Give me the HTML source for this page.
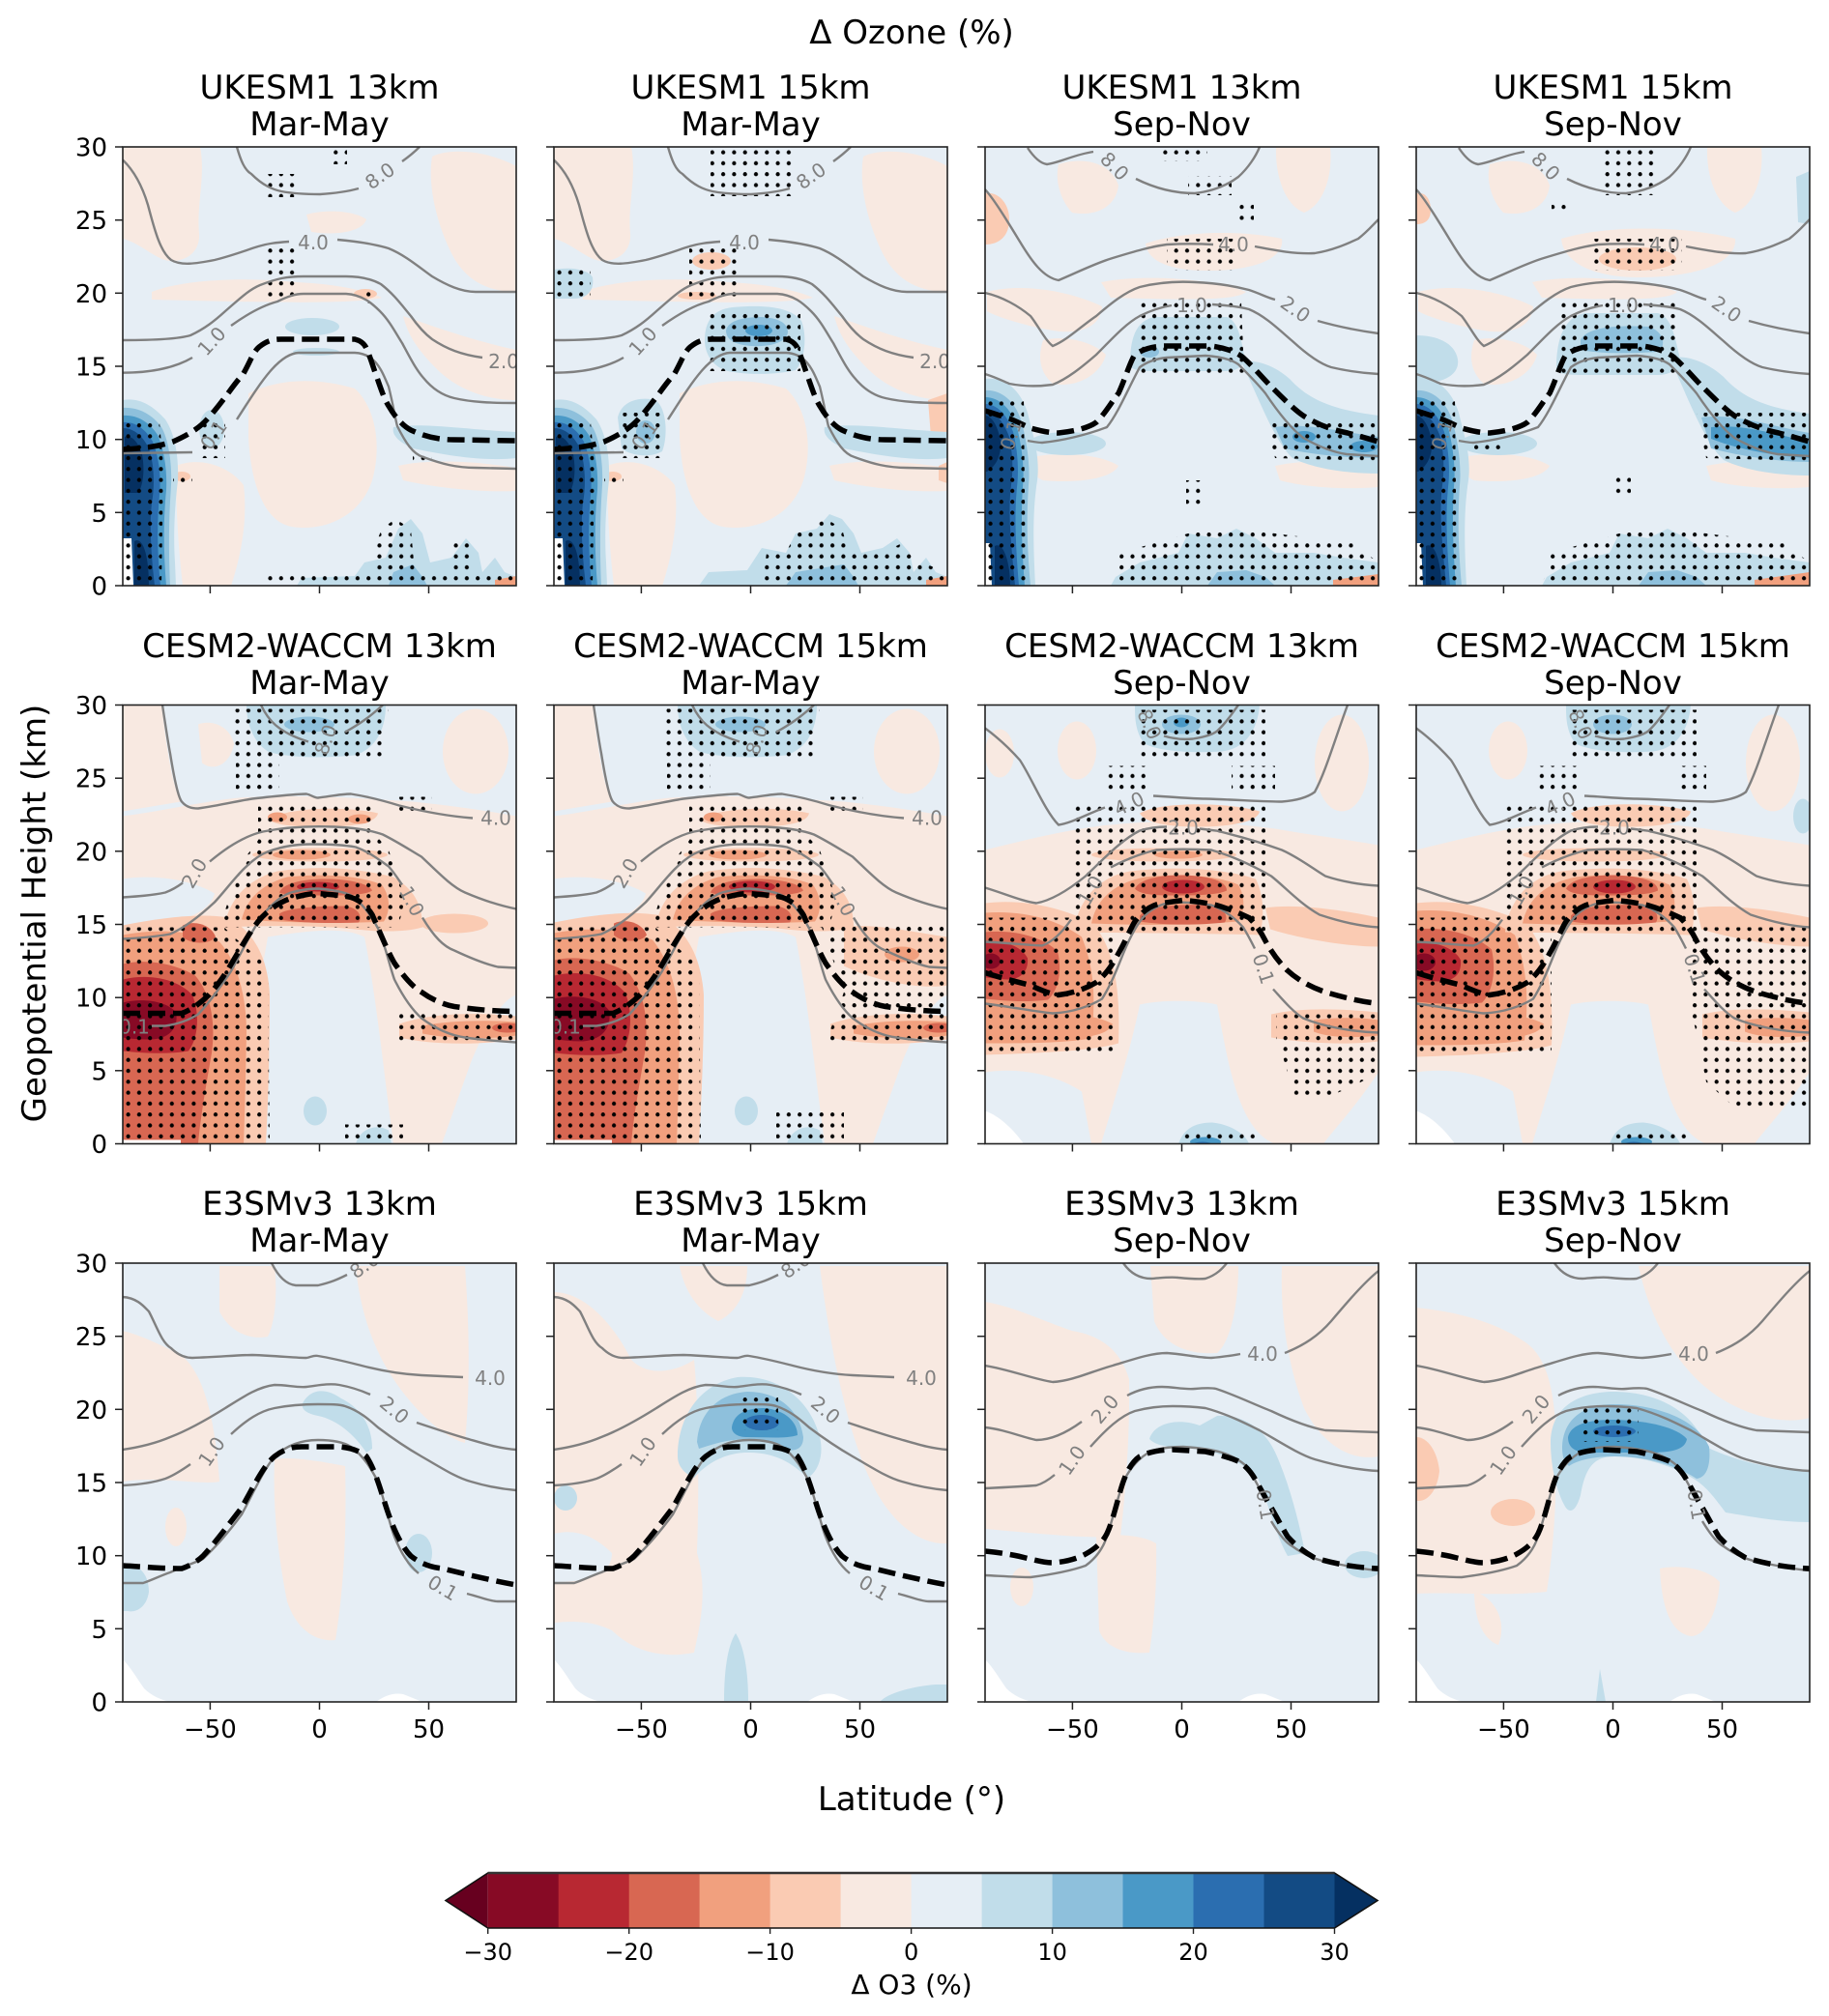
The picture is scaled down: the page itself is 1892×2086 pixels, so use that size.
<!DOCTYPE html>
<html><head><meta charset="utf-8"><style>
html,body{margin:0;padding:0;background:#fff}
svg{display:block}
text{font-family:"DejaVu Sans","Liberation Sans",sans-serif}
</style></head><body>
<svg width="1892" height="2086" viewBox="0 0 1892 2086" xmlns="http://www.w3.org/2000/svg">
<defs>
<pattern id="st" width="11.3" height="11.3" patternUnits="userSpaceOnUse"><circle cx="5.6" cy="5.6" r="2.1" fill="#000"/></pattern>
<clipPath id="cp"><rect x="0" y="0" width="407" height="454"/></clipPath>
<g id="tk">
<rect x="0" y="0" width="407" height="454" fill="none" stroke="#222" stroke-width="1.6"/>
<g stroke="#222" stroke-width="1.5">
<line x1="-8" x2="0" y1="454" y2="454"/><line x1="-8" x2="0" y1="378.3" y2="378.3"/><line x1="-8" x2="0" y1="302.7" y2="302.7"/><line x1="-8" x2="0" y1="227" y2="227"/><line x1="-8" x2="0" y1="151.3" y2="151.3"/><line x1="-8" x2="0" y1="75.7" y2="75.7"/><line x1="-8" x2="0" y1="0" y2="0"/>
<line x1="90.4" x2="90.4" y1="454" y2="462"/><line x1="203.5" x2="203.5" y1="454" y2="462"/><line x1="316.5" x2="316.5" y1="454" y2="462"/>
</g></g>

<g id="darkMAM">
<path fill="#c1ddea" d="M0,262 C15,259 30,266 44,282 C54,297 58,320 57,345 C54,370 52,400 54,430 L55,454 L0,454 Z"/>
<path fill="#8ec0dc" d="M0,270 C15,269 30,276 40,290 C48,304 51,330 50,350 C48,380 47,410 49,454 L0,454 Z"/>
<path fill="#4a99c7" d="M0,278 C14,277 27,284 36,298 C43,314 46,335 45,355 C42,385 42,420 45,454 L0,454 Z"/>
<path fill="#2b6eb0" d="M0,285 C12,284 23,291 31,305 C37,320 40,340 38,360 C35,390 36,425 39,454 L0,454 Z"/>
<path fill="#134b84" d="M0,291 C10,291 19,297 26,310 C32,324 33,345 31,362 C27,385 29,420 33,454 L0,454 Z"/>
<path fill="#053061" d="M2,300 C9,298 16,305 20,318 C23,335 21,350 16,358 L2,358 Z M12,408 C20,403 27,420 27,454 L12,454 Z"/>
<path fill="#fff" d="M0,405 L9,405 L11,454 L0,454 Z"/>
</g>
<g id="darkSON">
<path fill="#c1ddea" d="M0,240 C20,238 36,250 44,275 C50,300 57,320 54,345 C50,370 49,400 52,454 L0,454 Z"/>
<ellipse fill="#c1ddea" cx="85" cy="307" rx="40" ry="12"/>
<path fill="#8ec0dc" d="M0,252 C16,251 30,262 37,282 C43,303 47,330 45,350 C43,380 43,410 47,454 L0,454 Z"/>
<path fill="#4a99c7" d="M0,259 C14,259 27,270 33,290 C38,310 41,332 39,352 C37,382 38,415 41,454 L0,454 Z"/>
<path fill="#2b6eb0" d="M0,266 C12,266 23,277 29,295 C34,315 35,335 33,352 C30,382 32,418 35,454 L0,454 Z"/>
<path fill="#134b84" d="M0,273 C10,273 19,284 25,300 C29,320 29,335 27,350 C23,380 28,420 31,454 L0,454 Z"/>
<path fill="#053061" d="M0,278 C7,278 14,290 16,305 C17,318 12,330 2,336 L0,336 Z M10,413 C19,408 26,430 26,454 L10,454 Z"/>
<path fill="#fff" d="M0,410 L5,410 L7,454 L0,454 Z"/>
</g>

<g id="L1m" fill="none">
<g stroke="#808080" stroke-width="2.4">
<path d="M118,0 C122,14 126,24 133,28 C145,40 155,44 164,46 C180,49 195,49 204,49 C220,48 233,46 244,43"/>
<path d="M289,15 C296,10 302,5 307,0"/>
<path d="M0,13.5 C12,25 20,40 26,60 C32,82 38,108 50,117 C60,123 75,121 95,117 C115,112 130,106 140,103 C150,100 158,99 172,98"/>
<path d="M222,96 C245,98 262,101 275,105 C292,112 306,124 320,134 C335,143 350,150 365,150 L407,150"/>
<path d="M0,200 C40,200 60,198 70,195 C85,188 95,180 106,170 C120,158 130,148 142,143 C160,136 170,134 187,134 L231,134 C245,134 258,137 267,142 C280,152 288,163 298,175 C305,185 312,193 320,199 C335,209 350,215 372,218"/>
<path d="M0,233.7 C30,233.7 55,228 72,218"/>
<path d="M112,185 C130,172 145,164 160,160 C170,155 178,152 187,152 L231,152 C248,153 258,162 266,170 C276,180 282,192 289,203 C296,216 303,230 311,239 C320,250 330,257 343,260 C360,264 380,265 407,265"/>
<path d="M0,317 L72,316"/>
<path d="M118,282 C140,248 160,214 182,213 L240,213 C262,214 268,232 275,248 C280,268 282,282 284,289 C292,305 300,318 311,321 C330,328 345,332 365,332 L407,333"/>
</g>
<path stroke="#000" stroke-width="5.5" stroke-dasharray="18 8" d="M0,313 C25,312 40,309 52,305 C70,297 80,290 88,281 C105,262 115,245 124,236 C132,222 135,212 141,207 C150,200 156,199 164,199 L240,199 C248,201 251,205 253,211 C257,220 259,228 262,236 C267,250 270,260 275,268 C282,280 290,289 298,293 C315,301 330,303 342,303 L407,304"/>
</g>

<g id="L1s" fill="none">
<g stroke="#808080" stroke-width="2.4">
<path d="M44,1 C50,10 57,17 64,18 C78,16 92,8 112,5"/>
<path d="M156,33 C180,45 200,48 217,48 C235,46 250,40 262,31 C272,22 280,10 284,0"/>
<path d="M0,44 C10,55 25,80 36,98 C48,118 60,135 76,138 C95,130 115,120 132,115 C155,108 172,103 188,101 C205,100 220,100 236,101"/>
<path d="M279,103 C300,107 320,111 341,110 C360,107 375,100 386,95 C395,88 400,82 407,75"/>
<path d="M0,151 C18,155 35,165 47,175 C55,185 62,200 70,206 C85,200 100,185 115,175 C130,162 145,150 160,145 C180,140 200,139 217,140 C240,141 258,144 273,148 C285,152 292,156 300,158"/>
<path d="M344,180 C365,186 385,190 407,193"/>
<path d="M0,235 C10,238 18,242 25,245 C40,248 55,248 70,246 C85,240 100,228 115,215 C130,200 145,183 160,175 C170,170 180,166 193,164"/>
<path d="M235,163 C250,164 262,165 273,168 C290,175 305,190 318,201 C330,212 345,224 358,228 C375,232 390,234 407,235"/>
<path d="M44,304 C55,306 58,306 59,306 C80,304 105,298 126,290 C138,275 148,250 160,228 C168,222 178,219 188,218 L228,216 C242,217 255,220 262,225 C272,235 282,245 290,255 C300,270 315,290 329,301 C345,310 360,316 374,318 L407,320"/>
</g>
<path stroke="#000" stroke-width="5.5" stroke-dasharray="18 8" d="M0,273 C10,276 18,279 25,281 C35,285 42,289 47,291 C58,294 67,296 76,296 C95,294 108,290 115,285 C125,275 132,262 138,255 C145,240 150,222 155,215 C165,208 176,206 188,206 L234,206 C248,208 260,212 267,218 C278,228 288,240 296,248 C308,260 320,272 329,278 C345,288 360,293 375,296 C390,300 400,303 407,305"/>
</g>

<g id="L2m" fill="none">
<g stroke="#808080" stroke-width="2.4">
<path d="M143,0 C150,15 160,28 192,38"/>
<path d="M230,28 C248,18 258,10 269,0"/>
<path d="M41,0 C44,20 47,40 49,50 C53,75 57,95 61,100 C66,106 72,107 78,107 C100,104 120,99 134,97 C160,94 180,92 190,92 C195,93 198,96 202,96 C212,95 225,92 236,92 C255,95 270,99 286,104 C310,110 335,115 362,117"/>
<path d="M0,199 C15,198 30,197 44,194 C52,191 58,187 62,184"/>
<path d="M90,162 C110,145 128,135 145,131 C170,126 195,125 219,126 C240,127 258,130 269,134 C285,142 297,150 309,157 C325,172 340,188 354,194 C375,203 392,208 407,211"/>
<path d="M0,242 C20,241 38,239 49,237 C65,230 80,218 95,204 C110,188 125,165 145,154 C160,147 178,144 196,144 C215,144 230,145 241,147 C255,152 265,160 275,167 C282,175 286,182 289,186"/>
<path d="M310,220 C322,240 332,250 343,254 C360,262 375,268 388,271 L407,272"/>
<path d="M30,332 L44,332 C58,330 70,325 78,320 C92,305 102,290 111,277 C122,258 134,232 145,217 C155,205 165,197 174,194 C185,191 193,190 202,190 C215,191 228,193 236,197 C248,205 257,218 264,231 C272,250 276,270 281,284 C290,302 300,316 309,324 C325,336 340,342 354,344 C375,347 392,348 407,349"/>
</g>
<path stroke="#000" stroke-width="5.5" stroke-dasharray="18 8" d="M0,319 L61,319 C72,315 82,307 89,300 C98,290 105,280 111,270 C120,255 130,237 140,224 C150,212 162,204 174,200 C185,197 193,195 202,195 C215,196 228,197 236,199 C246,202 254,210 258,217 C266,235 274,255 281,267 C290,280 300,292 309,297 C320,305 332,310 343,312 C365,315 385,317 407,317"/>
</g>

<g id="L2s" fill="none">
<g stroke="#808080" stroke-width="2.4">
<path d="M185,32 C195,35 205,36 215,35 C228,33 236,30 240,27 C250,18 256,8 262,0"/>
<path d="M0,24 C15,35 28,48 36,57 C48,75 62,110 76,124 C90,122 105,113 124,106"/>
<path d="M174,94 C195,95 212,97 228,97 C260,98 290,100 307,100 C320,99 333,96 341,90 C352,70 362,35 375,0"/>
<path d="M0,189 C20,195 38,203 53,205 C70,202 88,190 104,177 C120,162 140,140 160,130 C170,127 180,126 188,126"/>
<path d="M222,128 L239,130 C260,135 285,142 307,150 C325,158 340,170 352,177 C370,183 390,186 407,187"/>
<path d="M0,245 C20,246 40,248 59,249 C70,245 80,235 89,222"/>
<path d="M130,168 C145,160 160,154 177,150 C195,149 215,149 234,150 C255,156 275,165 296,177 C310,188 325,205 346,217 C370,225 390,229 407,230"/>
<path d="M0,309 C25,312 50,317 70,319 C90,318 108,312 121,304 C130,290 137,272 143,257 C150,240 158,225 166,217 C175,209 185,205 194,204 C210,204 222,205 234,207 C248,212 258,220 267,230 C272,238 276,246 279,252"/>
<path d="M298,294 C308,305 318,317 329,324 C350,333 380,338 407,339"/>
</g>
<path stroke="#000" stroke-width="5.5" stroke-dasharray="18 8" d="M0,277 C15,282 35,287 47,290 C60,296 68,299 76,300 C92,298 105,293 115,287 C126,278 132,268 138,257 C145,245 150,232 155,224 C163,213 172,207 183,205 L205,202 C218,203 230,205 239,207 C253,211 264,216 273,220 C281,228 286,236 290,244 C297,257 305,267 312,274 C325,286 340,293 352,297 C372,303 390,307 407,309"/>
</g>

<g id="L3m" fill="none">
<g stroke="#808080" stroke-width="2.4">
<path d="M154,0 C160,12 168,22 179,23 L202,23 C215,20 222,17 232,12"/>
<path d="M0,35 C15,36 22,45 27,50 C35,65 40,82 50,88 C58,96 65,98 72,98 C100,97 120,95 134,95 C160,96 180,98 190,98 C195,97 198,95 202,96 C220,99 235,103 247,106 C270,112 290,115 309,116 L352,118"/>
<path d="M0,193 C20,190 35,186 49,180 C70,172 90,160 106,150 C125,138 140,128 157,126 C170,126 180,129 190,128 C200,127 212,124 224,126 C235,128 245,131 256,136"/>
<path d="M304,165 C325,172 340,177 354,181 C375,187 390,192 407,193"/>
<path d="M0,230 C20,229 35,226 44,223 C52,220 60,215 70,208"/>
<path d="M112,177 C128,162 142,153 157,150 C172,147 188,146 202,146 C215,146 224,146 230,148 C245,153 255,162 264,170 C280,182 295,192 309,200 C330,212 345,222 360,226 C380,232 395,234 407,235"/>
<path d="M0,331 L21,331 C30,328 40,323 49,320 C60,315 72,311 83,306 C100,290 112,275 123,260 C135,238 145,215 157,200 C170,188 185,183 202,183 C215,183 228,185 236,190 C250,200 258,215 264,226 C272,250 276,270 281,283 C288,300 295,312 306,321"/>
<path d="M356,342 C372,346 380,350 388,350 L407,350"/>
</g>
<path stroke="#000" stroke-width="5.5" stroke-dasharray="18 8" d="M0,313 C20,314 40,316 61,316 C70,313 78,308 83,303 C95,290 110,270 123,253 C135,232 145,210 157,200 C167,192 176,190 185,190 L224,190 C235,191 245,194 252,200 C262,215 268,240 275,260 C282,280 290,295 298,303 C308,311 320,315 331,316 C355,322 380,328 407,333"/>
</g>

<g id="L3s" fill="none">
<g stroke="#808080" stroke-width="2.4">
<path d="M143,0 C150,10 160,16 172,16 C185,15 192,14 200,15 C210,16 220,17 228,16 C240,12 246,5 250,0"/>
<path d="M0,106 C25,110 50,120 70,123 C90,122 110,112 132,106 C155,99 172,93 188,93 C205,94 220,98 234,98 C248,97 258,95 264,94"/>
<path d="M310,93 C330,85 345,75 358,60 C375,40 392,20 407,8"/>
<path d="M0,170 C20,172 38,180 53,183 C68,183 85,175 100,164"/>
<path d="M147,137 C160,130 172,128 183,128 C195,128 205,131 217,130 C228,129 235,129 239,130 C260,137 278,146 296,153 C315,162 335,170 352,173 L407,175"/>
<path d="M0,233 C20,232 40,231 53,230 C60,228 66,224 72,219"/>
<path d="M109,190 C125,172 140,158 155,153 C170,149 182,148 194,148 C210,148 220,149 228,150 C250,156 268,165 284,173 C305,185 325,198 341,203 C365,210 385,214 407,215"/>
<path d="M0,323 C20,324 35,325 47,325 C70,322 90,318 104,313 C115,305 122,295 126,283 C132,265 138,240 143,226 C152,208 165,196 177,193 C188,190 198,190 205,190 C220,191 235,193 245,196 C258,200 268,207 273,213 C278,222 282,230 284,233"/>
<path d="M296,267 C305,282 312,290 318,293 C330,302 345,308 358,310 C378,314 393,317 407,318"/>
</g>
<path stroke="#000" stroke-width="5.5" stroke-dasharray="18 8" d="M0,298 C20,300 35,303 42,305 C55,308 62,310 70,310 C85,309 97,305 104,301 C115,295 122,288 126,280 C133,265 138,240 143,226 C148,212 154,204 160,200 C170,195 183,193 194,193 L228,195 C242,198 255,202 262,205 C270,210 275,216 279,223 C286,235 291,245 296,253 C303,265 308,275 313,283 C322,293 332,300 341,305 C365,312 385,315 407,316"/>
</g>
</defs>

<rect width="1892" height="2086" fill="#fff"/>

<!-- Titles -->
<text x="943" y="45" font-size="34" text-anchor="middle">Δ Ozone (%)</text>
<g font-size="34" text-anchor="middle">
<text x="330.5" y="102">UKESM1 13km</text><text x="330.5" y="140">Mar-May</text>
<text x="776.5" y="102">UKESM1 15km</text><text x="776.5" y="140">Mar-May</text>
<text x="1222.5" y="102">UKESM1 13km</text><text x="1222.5" y="140">Sep-Nov</text>
<text x="1668.5" y="102">UKESM1 15km</text><text x="1668.5" y="140">Sep-Nov</text>
<text x="330.5" y="680">CESM2-WACCM 13km</text><text x="330.5" y="718">Mar-May</text>
<text x="776.5" y="680">CESM2-WACCM 15km</text><text x="776.5" y="718">Mar-May</text>
<text x="1222.5" y="680">CESM2-WACCM 13km</text><text x="1222.5" y="718">Sep-Nov</text>
<text x="1668.5" y="680">CESM2-WACCM 15km</text><text x="1668.5" y="718">Sep-Nov</text>
<text x="330.5" y="1257">E3SMv3 13km</text><text x="330.5" y="1295">Mar-May</text>
<text x="776.5" y="1257">E3SMv3 15km</text><text x="776.5" y="1295">Mar-May</text>
<text x="1222.5" y="1257">E3SMv3 13km</text><text x="1222.5" y="1295">Sep-Nov</text>
<text x="1668.5" y="1257">E3SMv3 15km</text><text x="1668.5" y="1295">Sep-Nov</text>
</g>

<!-- ============ ROW 1 ============ -->
<!-- R1C1 -->
<g transform="translate(127,152)">
<g clip-path="url(#cp)">
<rect width="407" height="454" fill="#e6eef5"/>
<g fill="#f8e9e1">
<path d="M0,0 L80,0 C86,30 76,60 79,90 C80,105 70,118 50,118 C35,118 20,100 0,95Z"/>
<path d="M30,150 C60,138 120,134 180,140 C220,142 250,148 268,156 C240,163 150,161 30,158Z"/>
<path d="M320,10 C340,0 380,5 407,20 L407,150 C380,150 355,140 340,110 C325,80 315,40 320,10Z"/>
<path d="M290,175 C320,185 360,200 407,210 L407,262 C375,262 345,250 325,230 C305,210 295,195 290,175Z"/>
<path d="M130,255 C160,240 200,238 240,250 C262,270 268,310 258,345 C245,385 205,398 175,393 C145,388 132,345 130,300Z"/>
<path d="M55,330 C80,320 110,330 125,350 C130,390 120,430 112,454 L62,454 C58,420 55,380 55,330Z"/>
<path d="M285,330 C320,322 370,326 407,332 L407,356 C370,358 320,352 290,345Z"/>
<path d="M190,70 C210,64 240,66 252,75 C248,88 220,92 195,88Z"/>
</g>
<ellipse fill="#facbb3" cx="251" cy="152" rx="12" ry="5"/>
<ellipse fill="#facbb3" cx="61" cy="341" rx="9" ry="5"/>
<ellipse fill="#c1ddea" cx="92" cy="292" rx="13" ry="20"/>
<ellipse fill="#c1ddea" cx="196" cy="186" rx="28" ry="9"/>
<ellipse fill="#c1ddea" cx="200" cy="212" rx="24" ry="4"/>
<path fill="#c1ddea" d="M280,290 C310,285 350,292 407,295 L407,322 C370,326 330,318 300,312 C285,305 278,298 280,290Z"/>
<path fill="#c1ddea" d="M180,454 L185,446 L240,444 L250,430 L272,425 L285,395 L298,385 L310,400 L318,430 L340,425 L355,405 L368,420 L372,440 L385,425 L395,440 L407,445 L407,454Z"/>
<path fill="#8ec0dc" d="M275,454 L280,440 L300,432 L310,445 L315,454Z"/>
<path fill="#f1a07e" d="M385,448 L407,444 L407,454 L385,454Z"/>
<use href="#darkMAM"/>
<path fill="url(#st)" d="M0,285 L38,285 L42,330 L40,454 L0,454Z M80,282 L106,282 L106,322 L80,322Z M255,454 L258,420 L268,395 L282,385 L298,395 L302,440 L300,454Z M340,454 L342,410 L360,410 L366,454Z M150,454 L150,444 L407,444 L407,454Z M148,28 L178,28 L178,52 L148,52Z M215,0 L232,0 L232,18 L215,18Z M150,105 L178,105 L178,160 L150,160Z M246,148 L262,148 L262,162 L246,162Z M300,318 L320,318 L320,330 L300,330Z M52,337 L72,337 L72,347 L52,347Z"/>
<use href="#L1m"/>
<g font-size="20" fill="#808080" text-anchor="middle">
<text x="266" y="37" transform="rotate(-35 266 30)">8.0</text>
<text x="197" y="106">4.0</text>
<text x="394" y="229">2.0</text>
<text x="92" y="208" transform="rotate(-48 92 201)">1.0</text>
<text x="94" y="305" transform="rotate(-55 94 298)">0.1</text>
</g>
</g>
<use href="#tk"/>
</g>

<!-- R1C2 -->
<g transform="translate(573,152)">
<g clip-path="url(#cp)">
<rect width="407" height="454" fill="#e6eef5"/>
<g fill="#f8e9e1">
<path d="M0,0 L80,0 C86,30 76,60 79,90 C80,105 70,118 50,118 C35,118 20,100 0,95Z"/>
<path d="M30,150 C60,138 120,134 180,140 C220,142 250,148 268,156 C240,163 150,161 30,158Z"/>
<path d="M320,10 C340,0 380,5 407,20 L407,150 C380,150 355,140 340,110 C325,80 315,40 320,10Z"/>
<path d="M290,175 C320,185 360,200 407,210 L407,262 C375,262 345,250 325,230 C305,210 295,195 290,175Z"/>
<path d="M130,255 C160,240 200,238 240,250 C262,270 268,310 258,345 C245,385 205,398 175,393 C145,388 132,345 130,300Z"/>
<path d="M55,330 C80,320 110,330 125,350 C130,390 120,430 112,454 L62,454 C58,420 55,380 55,330Z"/>
<path d="M285,330 C320,322 370,326 407,332 L407,356 C370,358 320,352 290,345Z"/>
</g>
<ellipse fill="#facbb3" cx="163" cy="118" rx="20" ry="9"/>
<ellipse fill="#facbb3" cx="148" cy="154" rx="20" ry="4"/>
<path fill="#facbb3" d="M387,262 L407,255 L407,305 L390,300Z M398,330 L407,326 L407,348 L398,345Z"/>
<ellipse fill="#facbb3" cx="61" cy="341" rx="9" ry="5"/>
<path fill="#c1ddea" d="M0,127 C15,124 35,126 40,135 C42,148 35,157 20,157 L0,157Z"/>
<path fill="#c1ddea" d="M66,280 C70,262 90,258 105,262 C117,270 118,300 112,315 C100,322 80,320 70,312Z"/>
<ellipse fill="#8ec0dc" cx="95" cy="295" rx="10" ry="12"/>
<path fill="#c1ddea" d="M156,200 C156,180 165,168 185,166 C215,163 245,165 256,180 C262,195 260,220 250,231 C230,236 200,236 180,232 C165,228 156,215 156,200Z"/>
<path fill="#8ec0dc" d="M178,190 C180,180 195,176 215,176 C232,177 242,182 242,192 C240,202 225,207 205,206 C188,205 178,200 178,190Z"/>
<ellipse fill="#4a99c7" cx="212" cy="190" rx="14" ry="6"/>
<path fill="#c1ddea" d="M280,290 C310,285 350,292 407,295 L407,322 C370,326 330,318 300,312 C285,305 278,298 280,290Z"/>
<path fill="#c1ddea" d="M150,454 L160,440 L200,438 L215,415 L240,420 L250,400 L272,395 L285,380 L298,385 L310,400 L318,420 L340,415 L355,405 L368,420 L372,440 L385,425 L395,440 L407,445 L407,454Z"/>
<path fill="#8ec0dc" d="M240,454 L250,440 L275,436 L300,432 L310,445 L315,454Z"/>
<path fill="#f1a07e" d="M385,448 L407,444 L407,454 L385,454Z"/>
<use href="#darkMAM"/>
<path fill="url(#st)" d="M0,285 L38,285 L42,330 L40,454 L0,454Z M66,275 L115,275 L115,322 L66,322Z M160,168 L255,168 L255,232 L160,232Z M0,127 L38,127 L38,156 L0,156Z M162,0 L246,0 L246,51 L162,51Z M140,105 L190,105 L190,160 L140,160Z M215,454 L220,420 L240,420 L250,400 L282,385 L298,395 L305,420 L340,420 L360,410 L380,430 L407,440 L407,454Z M52,337 L72,337 L72,347 L52,347Z"/>
<use href="#L1m"/>
<g font-size="20" fill="#808080" text-anchor="middle">
<text x="266" y="37" transform="rotate(-35 266 30)">8.0</text>
<text x="197" y="106">4.0</text>
<text x="394" y="229">2.0</text>
<text x="92" y="208" transform="rotate(-48 92 201)">1.0</text>
<text x="94" y="305" transform="rotate(-55 94 298)">0.1</text>
</g>
</g>
<use href="#tk"/>
</g>

<!-- R1C3 -->
<g transform="translate(1019,152)">
<g clip-path="url(#cp)">
<rect width="407" height="454" fill="#e6eef5"/>
<g fill="#f8e9e1">
<path d="M76,18 C100,10 130,15 138,40 C135,65 110,72 90,68 C78,55 72,35 76,18Z"/>
<path d="M166,100 C200,88 260,85 307,95 C310,115 280,128 230,128 C190,128 168,118 166,100Z"/>
<path d="M301,0 L357,0 C360,30 350,60 330,68 C310,60 300,30 301,0Z"/>
<path d="M2,150 C40,140 90,150 121,165 C120,185 100,195 70,190 C40,185 10,175 2,170Z"/>
<path d="M47,321 C80,315 120,318 138,330 C130,345 90,348 60,345 C48,340 45,330 47,321Z"/>
<path d="M300,330 C340,322 380,325 407,330 L407,352 C370,355 330,352 305,345Z"/>
<path d="M120,140 C160,132 230,135 270,150 C260,160 200,158 130,156Z"/>
<path d="M60,200 C80,195 110,200 125,215 C120,235 95,250 70,245 C55,232 55,215 60,200Z"/>
</g>
<path fill="#facbb3" d="M0,48 C15,46 25,60 25,75 C25,92 15,101 0,101Z"/>
<path fill="#c1ddea" d="M150,225 C150,200 155,180 175,176 L250,176 C262,180 265,200 268,215 C270,225 262,232 250,232 L170,232 C158,232 150,230 150,225Z"/>
<ellipse fill="#8ec0dc" cx="170" cy="212" rx="10" ry="6"/>
<path fill="#c1ddea" d="M265,222 C280,220 298,225 315,240 C335,262 360,272 407,278 L407,338 C375,338 340,333 318,322 C300,305 285,265 265,222Z"/>
<path fill="#8ec0dc" d="M300,290 C330,285 370,295 407,300 L407,322 C375,322 335,318 310,312Z"/>
<ellipse fill="#4a99c7" cx="330" cy="300" rx="12" ry="6"/>
<ellipse fill="#4a99c7" cx="392" cy="310" rx="14" ry="6"/>
<path fill="#c1ddea" d="M130,454 L135,445 L160,430 L200,420 L210,400 L240,405 L260,395 L280,405 L300,420 L340,420 L370,425 L407,430 L407,448 L380,448 L360,454Z"/>
<path fill="#8ec0dc" d="M230,454 L240,440 L270,438 L290,445 L300,454Z"/>
<path fill="#f1a07e" d="M360,448 L407,442 L407,454 L360,454Z"/>
<use href="#darkSON"/>
<path fill="url(#st)" d="M0,258 L40,258 L42,454 L0,454Z M210,30 L255,30 L255,50 L210,50Z M184,2 L230,2 L230,15 L184,15Z M260,55 L278,55 L278,80 L260,80Z M188,95 L262,95 L262,128 L188,128Z M155,160 L265,160 L268,235 L155,235Z M290,285 L407,285 L407,325 L300,322Z M132,454 L140,420 L210,400 L260,395 L300,400 L380,410 L407,430 L407,454Z M208,345 L225,345 L225,372 L208,372Z"/>
<use href="#L1s"/>
<g font-size="20" fill="#808080" text-anchor="middle">
<text x="134" y="27" transform="rotate(45 134 20)">8.0</text>
<text x="257" y="108">4.0</text>
<text x="321" y="175" transform="rotate(35 321 168)">2.0</text>
<text x="214" y="171">1.0</text>
<text x="27" y="305" transform="rotate(-72 27 298)">0.1</text>
</g>
</g>
<use href="#tk"/>
</g>

<!-- R1C4 -->
<g transform="translate(1465,152)">
<g clip-path="url(#cp)">
<rect width="407" height="454" fill="#e6eef5"/>
<g fill="#f8e9e1">
<path d="M76,18 C100,10 130,15 138,40 C135,65 110,72 90,68 C78,55 72,35 76,18Z"/>
<path d="M150,95 C200,80 280,82 330,95 C332,120 290,135 230,135 C180,135 152,118 150,95Z"/>
<path d="M301,0 L357,0 C360,30 350,60 330,68 C310,60 300,30 301,0Z"/>
<path d="M2,150 C40,140 90,150 121,165 C120,185 100,195 70,190 C40,185 10,175 2,170Z"/>
<path d="M47,321 C80,315 120,318 138,330 C130,345 90,348 60,345 C48,340 45,330 47,321Z"/>
<path d="M300,330 C340,322 380,325 407,330 L407,352 C370,355 330,352 305,345Z"/>
<path d="M120,140 C160,132 230,135 270,150 C260,160 200,158 130,156Z"/>
<path d="M60,200 C80,195 110,200 125,215 C120,235 95,250 70,245 C55,232 55,215 60,200Z"/>
</g>
<ellipse fill="#facbb3" cx="229" cy="116" rx="40" ry="12"/>
<path fill="#facbb3" d="M0,48 C10,46 15,55 15,65 C15,75 10,80 0,80Z"/>
<path fill="#c1ddea" d="M393,31 L407,25 L407,80 L395,78Z"/>
<path fill="#c1ddea" d="M0,195 C20,195 40,202 43,220 C45,235 30,245 0,245Z"/>
<path fill="#c1ddea" d="M145,230 C145,200 152,176 175,172 L250,172 C265,176 268,200 272,215 C274,228 265,236 250,236 L170,236 C155,236 145,234 145,230Z"/>
<path fill="#8ec0dc" d="M170,200 C175,188 200,184 240,186 C255,190 260,205 250,212 C220,214 190,214 170,210Z"/>
<path fill="#c1ddea" d="M262,218 C280,215 300,222 318,238 C338,260 362,270 407,276 L407,340 C375,340 340,335 318,324 C298,305 282,262 262,218Z"/>
<path fill="#8ec0dc" d="M295,280 C330,275 370,290 407,296 L407,326 C375,326 335,320 305,312Z"/>
<path fill="#4a99c7" d="M305,290 C340,286 380,300 407,305 L407,322 C370,320 330,312 305,302Z"/>
<path fill="#c1ddea" d="M130,454 L135,445 L160,430 L200,420 L210,400 L240,405 L260,395 L280,405 L300,420 L340,420 L370,425 L407,430 L407,448 L380,448 L360,454Z"/>
<path fill="#8ec0dc" d="M230,454 L240,440 L270,438 L290,445 L300,454Z"/>
<path fill="#f1a07e" d="M350,448 L407,440 L407,454 L350,454Z"/>
<use href="#darkSON"/>
<path fill="url(#st)" d="M0,258 L40,258 L42,454 L0,454Z M190,0 L250,0 L250,50 L190,50Z M140,55 L160,55 L160,70 L140,70Z M182,95 L275,95 L275,128 L182,128Z M150,160 L270,160 L272,238 L150,238Z M290,275 L407,275 L407,325 L300,322Z M130,454 L140,420 L210,400 L260,395 L300,400 L380,410 L407,430 L407,454Z M205,340 L222,340 L222,365 L205,365Z M60,305 L90,305 L90,318 L60,318Z"/>
<use href="#L1s"/>
<g font-size="20" fill="#808080" text-anchor="middle">
<text x="134" y="27" transform="rotate(45 134 20)">8.0</text>
<text x="257" y="108">4.0</text>
<text x="321" y="175" transform="rotate(35 321 168)">2.0</text>
<text x="214" y="171">1.0</text>
<text x="27" y="305" transform="rotate(-72 27 298)">0.1</text>
</g>
</g>
<use href="#tk"/>
</g>

<!-- ============ ROW 2 ============ -->
<!-- R2C1 -->
<g transform="translate(127,729.5)">
<g clip-path="url(#cp)">
<rect width="407" height="454" fill="#e6eef5"/>
<g fill="#f8e9e1">
<path d="M0,115 C40,110 80,100 120,96 C180,92 240,96 300,100 C340,104 380,110 407,115 L407,300 C390,305 370,345 360,370 L330,454 L280,454 C270,380 262,300 250,240 C230,230 200,232 150,240 C140,300 120,380 100,454 L0,454Z"/>
<path d="M0,0 L40,0 C45,40 50,80 60,100 L0,110Z"/>
<ellipse cx="365" cy="48" rx="34" ry="44"/>
<path d="M78,20 C90,15 110,20 115,40 C112,60 95,70 82,60Z"/>
</g>
<path fill="#e6eef5" d="M0,180 C30,175 70,180 95,195 C90,215 60,228 0,230Z"/>
<path fill="#e6eef5" d="M155,250 C170,245 185,248 190,260 L192,420 C180,440 165,440 158,420Z"/>
<path fill="#facbb3" d="M0,228 C40,220 80,215 110,220 C135,235 150,260 152,300 C152,360 150,420 148,454 L0,454Z"/>
<path fill="#f1a07e" d="M0,238 C30,232 70,232 100,245 C118,265 128,300 128,340 C127,390 126,430 125,454 L0,454Z"/>
<path fill="#d86752" d="M0,268 C25,262 55,268 75,280 C92,300 96,330 92,360 C85,400 80,430 78,454 L0,454Z"/>
<path fill="#d86752" d="M62,228 C75,222 92,228 96,240 C90,248 70,248 62,240Z"/>
<path fill="#b82832" d="M0,284 C25,278 55,282 72,300 C80,320 78,345 68,358 C45,362 20,360 0,358Z"/>
<path fill="#870a25" d="M0,308 C20,303 45,306 55,318 C58,332 50,345 30,346 C15,346 5,345 0,344Z"/>
<path fill="#fff" d="M0,450 L60,450 L60,454 L0,454Z"/>
<path fill="#facbb3" d="M105,230 C110,200 130,180 160,172 C200,166 240,168 280,178 C300,190 310,205 310,230 C290,236 260,234 240,232 C200,228 150,228 105,230Z"/>
<path fill="#f1a07e" d="M123,222 C128,200 145,185 170,178 C205,174 245,176 268,186 C278,200 276,215 270,224 C240,226 180,226 123,222Z"/>
<path fill="#d86752" d="M162,194 C165,185 185,180 210,180 C235,180 255,185 258,192 C250,197 230,197 205,197 C185,197 168,197 162,194Z"/>
<path fill="#d86752" d="M162,216 C170,210 200,208 230,208 C245,210 248,220 244,225 C220,226 185,226 162,222Z"/>
<ellipse fill="#b82832" cx="202" cy="188" rx="22" ry="5"/>
<ellipse fill="#facbb3" cx="204" cy="155" rx="70" ry="7"/>
<ellipse fill="#f1a07e" cx="185" cy="155" rx="30" ry="5"/>
<path fill="#facbb3" d="M151,118 C170,106 230,104 264,112 C262,122 240,126 205,126 C175,126 155,124 151,118Z"/>
<ellipse fill="#f1a07e" cx="160" cy="116" rx="10" ry="5"/>
<ellipse fill="#f1a07e" cx="245" cy="118" rx="12" ry="5"/>
<path fill="#facbb3" d="M286,330 C320,318 370,318 407,322 L407,346 C370,352 320,352 286,344Z"/>
<path fill="#f1a07e" d="M310,332 C340,326 380,326 407,328 L407,342 C380,346 340,346 310,340Z"/>
<ellipse fill="#d86752" cx="398" cy="334" rx="16" ry="5"/>
<ellipse fill="#facbb3" cx="343" cy="226" rx="35" ry="10"/>
<path fill="#c1ddea" d="M128,0 L272,0 C272,25 262,45 240,52 C210,55 170,55 150,48 C135,38 128,20 128,0Z"/>
<ellipse fill="#8ec0dc" cx="193" cy="20" rx="26" ry="8"/>
<ellipse fill="#c1ddea" cx="199" cy="420" rx="12" ry="15"/>
<path fill="#c1ddea" d="M241,454 C245,440 260,432 275,440 L278,454Z"/>
<path fill="url(#st)" d="M0,230 L105,230 L115,240 L150,270 L152,454 L0,454Z M140,105 L260,105 L262,135 L275,150 L292,200 L285,230 L100,230 L110,200 L125,160 L140,140Z M110,4 L275,4 L270,54 L115,54Z M117,54 L162,54 L162,92 L117,92Z M281,317 L407,317 L407,350 L281,350Z M285,95 L320,95 L320,110 L285,110Z M230,434 L290,434 L290,454 L230,454Z"/>
<use href="#L2m"/>
<g font-size="20" fill="#808080" text-anchor="middle">
<text x="210" y="43" transform="rotate(-70 210 36)">8.0</text>
<text x="386" y="124">4.0</text>
<text x="74" y="181" transform="rotate(-60 74 174)">2.0</text>
<text x="299" y="210" transform="rotate(62 299 203)">1.0</text>
<text x="12" y="340">0.1</text>
</g>
</g>
<use href="#tk"/>
</g>

<!-- R2C2 -->
<g transform="translate(573,729.5)">
<g clip-path="url(#cp)">
<rect width="407" height="454" fill="#e6eef5"/>
<g fill="#f8e9e1">
<path d="M0,115 C40,110 80,100 120,96 C180,92 240,96 300,100 C340,104 380,110 407,115 L407,300 C390,305 370,345 360,370 L330,454 L280,454 C270,380 262,300 250,240 C230,230 200,232 150,240 C140,300 120,380 100,454 L0,454Z"/>
<path d="M0,0 L40,0 C45,40 50,80 60,100 L0,110Z"/>
<ellipse cx="365" cy="48" rx="34" ry="44"/>
</g>
<path fill="#e6eef5" d="M0,180 C30,175 70,180 95,195 C90,215 60,228 0,230Z"/>
<path fill="#e6eef5" d="M155,250 C170,245 185,248 190,260 L192,420 C180,440 165,440 158,420Z"/>
<path fill="#facbb3" d="M0,225 C40,217 80,212 112,218 C138,235 152,260 155,300 C155,360 152,420 150,454 L0,454Z"/>
<path fill="#f1a07e" d="M0,236 C30,230 72,230 102,243 C120,265 130,300 130,340 C129,390 128,430 127,454 L0,454Z"/>
<path fill="#d86752" d="M0,264 C25,258 58,265 78,278 C95,300 98,330 94,360 C87,400 82,430 80,454 L0,454Z"/>
<path fill="#d86752" d="M62,226 C75,220 92,226 96,238 C90,246 70,246 62,238Z"/>
<path fill="#b82832" d="M0,280 C25,274 57,278 74,298 C82,320 80,345 70,360 C45,364 20,362 0,360Z"/>
<path fill="#870a25" d="M0,304 C20,299 47,302 57,316 C60,332 52,346 30,348 C15,348 5,346 0,346Z"/>
<path fill="#fff" d="M0,450 L60,450 L60,454 L0,454Z"/>
<path fill="#facbb3" d="M105,230 C110,200 130,180 160,172 C200,166 240,168 280,178 C300,190 310,205 310,230 C290,236 260,234 240,232 C200,228 150,228 105,230Z"/>
<path fill="#f1a07e" d="M123,222 C128,200 145,185 170,178 C205,174 245,176 268,186 C278,200 276,215 270,224 C240,226 180,226 123,222Z"/>
<path fill="#d86752" d="M162,194 C165,185 185,180 210,180 C235,180 255,185 258,192 C250,197 230,197 205,197 C185,197 168,197 162,194Z"/>
<path fill="#d86752" d="M162,216 C170,210 200,208 230,208 C245,210 248,220 244,225 C220,226 185,226 162,222Z"/>
<ellipse fill="#b82832" cx="205" cy="188" rx="24" ry="6"/>
<ellipse fill="#facbb3" cx="204" cy="155" rx="70" ry="7"/>
<ellipse fill="#f1a07e" cx="190" cy="155" rx="30" ry="5"/>
<path fill="#facbb3" d="M151,118 C170,106 230,104 264,112 C262,122 240,126 205,126 C175,126 155,124 151,118Z"/>
<ellipse fill="#f1a07e" cx="165" cy="116" rx="10" ry="5"/>
<path fill="#facbb3" d="M300,230 C330,225 370,235 407,240 L407,290 C380,295 330,285 300,270Z"/>
<ellipse fill="#f1a07e" cx="360" cy="258" rx="18" ry="8"/>
<path fill="#facbb3" d="M286,330 C320,318 370,318 407,322 L407,346 C370,352 320,352 286,344Z"/>
<path fill="#f1a07e" d="M310,332 C340,326 380,326 407,328 L407,342 C380,346 340,346 310,340Z"/>
<ellipse fill="#d86752" cx="398" cy="334" rx="16" ry="5"/>
<path fill="#c1ddea" d="M128,0 L272,0 C272,25 262,45 240,52 C210,55 170,55 150,48 C135,38 128,20 128,0Z"/>
<ellipse fill="#8ec0dc" cx="193" cy="20" rx="26" ry="8"/>
<ellipse fill="#c1ddea" cx="199" cy="420" rx="12" ry="15"/>
<path fill="#c1ddea" d="M241,454 C245,440 260,432 275,440 L278,454Z"/>
<path fill="url(#st)" d="M0,230 L105,230 L115,240 L150,270 L152,454 L0,454Z M140,105 L260,105 L262,135 L275,150 L292,200 L285,230 L100,230 L110,200 L125,160 L140,140Z M110,4 L275,4 L270,54 L115,54Z M117,54 L162,54 L162,92 L117,92Z M275,224 L407,224 L407,350 L281,350 L300,297Z M285,95 L320,95 L320,110 L285,110Z M230,420 L300,420 L300,454 L230,454Z"/>
<use href="#L2m"/>
<g font-size="20" fill="#808080" text-anchor="middle">
<text x="210" y="43" transform="rotate(-70 210 36)">8.0</text>
<text x="386" y="124">4.0</text>
<text x="74" y="181" transform="rotate(-60 74 174)">2.0</text>
<text x="299" y="210" transform="rotate(62 299 203)">1.0</text>
<text x="12" y="340">0.1</text>
</g>
</g>
<use href="#tk"/>
</g>

<!-- R2C3 -->
<g transform="translate(1019,729.5)">
<g clip-path="url(#cp)">
<rect width="407" height="454" fill="#e6eef5"/>
<g fill="#f8e9e1">
<path d="M0,150 C40,140 80,130 120,125 C180,118 240,120 300,128 C340,135 380,140 407,145 L407,380 C380,420 360,440 350,454 L300,454 C260,440 250,360 240,310 C220,305 180,305 160,310 C150,360 130,420 120,454 L0,454Z"/>
<ellipse cx="95" cy="47" rx="20" ry="30"/>
<ellipse cx="369" cy="60" rx="28" ry="50"/>
<ellipse cx="15" cy="50" rx="15" ry="25"/>
</g>
<path fill="#e6eef5" d="M0,380 C30,375 70,380 100,400 L110,454 L0,454Z"/>
<path fill="#facbb3" d="M0,205 C40,200 80,210 110,225 C135,250 140,300 138,350 C110,358 60,360 0,362Z"/>
<path fill="#f1a07e" d="M0,215 C40,212 75,222 100,240 C112,270 115,300 110,345 C80,350 40,350 0,350Z"/>
<path fill="#d86752" d="M0,235 C30,232 60,240 75,255 C80,275 76,295 65,305 C40,308 20,306 0,304Z"/>
<path fill="#b82832" d="M0,245 C20,243 38,250 44,262 C45,275 38,283 25,284 C12,284 5,282 0,282Z"/>
<ellipse fill="#870a25" cx="6" cy="265" rx="10" ry="8"/>
<path fill="#f1a07e" d="M47,325 C80,318 115,320 132,330 C128,342 100,346 70,345 C55,342 48,335 47,325Z"/>
<path fill="#facbb3" d="M92,235 C95,205 115,178 150,172 C200,166 250,170 280,180 C290,200 288,225 284,238 C230,236 150,236 92,235Z"/>
<path fill="#f1a07e" d="M110,226 C115,200 135,184 165,178 C200,174 240,176 262,186 C270,200 268,215 262,224 C210,228 160,228 110,226Z"/>
<path fill="#d86752" d="M155,190 C160,180 180,176 205,176 C232,177 250,182 250,192 C240,197 215,197 195,197 C175,197 160,196 155,190Z"/>
<path fill="#d86752" d="M160,218 C168,208 200,206 232,207 C248,210 252,218 248,225 C220,228 185,228 160,224Z"/>
<ellipse fill="#b82832" cx="205" cy="188" rx="22" ry="7"/>
<ellipse fill="#facbb3" cx="185" cy="155" rx="75" ry="7"/>
<ellipse fill="#f1a07e" cx="200" cy="155" rx="25" ry="4"/>
<path fill="#facbb3" d="M160,112 C180,100 250,100 284,110 C282,122 250,126 220,126 C190,126 165,122 160,112Z"/>
<path fill="#facbb3" d="M296,320 C330,312 375,315 407,318 L407,348 C375,352 330,350 296,344Z"/>
<path fill="#f1a07e" d="M340,326 C370,322 395,324 407,326 L407,342 C380,345 355,344 340,338Z"/>
<path fill="#facbb3" d="M290,210 C320,205 370,212 407,220 L407,250 C370,250 320,240 295,232Z"/>
<path fill="#c1ddea" d="M200,454 C205,440 215,432 235,432 C255,434 270,445 273,454Z"/>
<ellipse fill="#4a99c7" cx="228" cy="452" rx="16" ry="5"/>
<ellipse fill="#2b6eb0" cx="225" cy="455" rx="10" ry="3"/>
<path fill="#c1ddea" d="M155,0 L284,0 C282,25 270,45 245,48 C215,50 180,48 165,40 C155,28 155,12 155,0Z"/>
<ellipse fill="#8ec0dc" cx="203" cy="20" rx="20" ry="10"/>
<ellipse fill="#4a99c7" cx="203" cy="18" rx="8" ry="5"/>
<path fill="#fff" d="M0,420 C15,425 30,440 40,454 L0,454Z"/>
<path fill="url(#st)" d="M0,220 L138,220 L138,364 L0,364Z M92,100 L290,100 L290,240 L92,240Z M155,5 L290,5 L290,55 L155,55Z M125,63 L170,63 L170,91 L125,91Z M255,63 L300,63 L300,91 L255,91Z M301,320 L407,320 L407,380 L380,395 L350,407 L320,405 L310,370 L301,345Z M200,440 L280,440 L280,454 L200,454Z"/>
<use href="#L2s"/>
<g font-size="20" fill="#808080" text-anchor="middle">
<text x="170" y="27" transform="rotate(65 170 20)">8.0</text>
<text x="149" y="109" transform="rotate(-25 149 102)">4.0</text>
<text x="205" y="134">2.0</text>
<text x="109" y="199" transform="rotate(-60 109 192)">1.0</text>
<text x="288" y="280" transform="rotate(72 288 273)">0.1</text>
</g>
</g>
<use href="#tk"/>
</g>

<!-- R2C4 -->
<g transform="translate(1465,729.5)">
<g clip-path="url(#cp)">
<rect width="407" height="454" fill="#e6eef5"/>
<g fill="#f8e9e1">
<path d="M0,150 C40,140 80,130 120,125 C180,118 240,120 300,128 C340,135 380,140 407,145 L407,380 C380,420 360,440 350,454 L300,454 C260,440 250,360 240,310 C220,305 180,305 160,310 C150,360 130,420 120,454 L0,454Z"/>
<ellipse cx="95" cy="47" rx="20" ry="30"/>
<ellipse cx="369" cy="60" rx="28" ry="50"/>
</g>
<path fill="#e6eef5" d="M0,380 C30,375 70,380 100,400 L110,454 L0,454Z"/>
<path fill="#facbb3" d="M0,205 C40,200 80,210 112,225 C137,250 142,300 140,352 C110,360 60,362 0,364Z"/>
<path fill="#f1a07e" d="M0,213 C40,210 77,220 102,238 C114,270 117,300 112,347 C80,352 40,352 0,352Z"/>
<path fill="#d86752" d="M0,232 C30,229 62,238 78,253 C83,275 79,297 68,308 C40,311 20,309 0,307Z"/>
<path fill="#b82832" d="M0,247 C22,244 40,252 46,264 C47,278 40,285 26,286 C12,286 5,284 0,284Z"/>
<ellipse fill="#870a25" cx="8" cy="266" rx="12" ry="9"/>
<path fill="#f1a07e" d="M47,325 C80,318 115,320 132,330 C128,342 100,346 70,345 C55,342 48,335 47,325Z"/>
<path fill="#facbb3" d="M92,235 C95,205 115,178 150,172 C200,166 250,170 280,180 C290,200 288,225 284,238 C230,236 150,236 92,235Z"/>
<path fill="#f1a07e" d="M110,226 C115,200 135,184 165,178 C200,174 240,176 262,186 C270,200 268,215 262,224 C210,228 160,228 110,226Z"/>
<path fill="#d86752" d="M155,190 C160,180 180,176 205,176 C232,177 250,182 250,192 C240,197 215,197 195,197 C175,197 160,196 155,190Z"/>
<path fill="#d86752" d="M160,218 C168,208 200,206 232,207 C248,210 252,218 248,225 C220,228 185,228 160,224Z"/>
<ellipse fill="#b82832" cx="205" cy="188" rx="22" ry="7"/>
<ellipse fill="#facbb3" cx="185" cy="155" rx="75" ry="7"/>
<path fill="#facbb3" d="M160,112 C180,100 250,100 284,110 C282,122 250,126 220,126 C190,126 165,122 160,112Z"/>
<path fill="#facbb3" d="M296,320 C330,312 375,315 407,318 L407,348 C375,352 330,350 296,344Z"/>
<path fill="#f1a07e" d="M340,326 C370,322 395,324 407,326 L407,342 C380,345 355,344 340,338Z"/>
<path fill="#facbb3" d="M290,210 C320,205 370,212 407,220 L407,250 C370,250 320,240 295,232Z"/>
<path fill="#c1ddea" d="M200,454 C205,440 215,432 235,432 C255,434 270,445 273,454Z"/>
<ellipse fill="#4a99c7" cx="228" cy="452" rx="16" ry="5"/>
<ellipse fill="#2b6eb0" cx="225" cy="455" rx="10" ry="3"/>
<path fill="#c1ddea" d="M155,0 L284,0 C282,25 270,45 245,48 C215,50 180,48 165,40 C155,28 155,12 155,0Z"/>
<ellipse fill="#8ec0dc" cx="203" cy="20" rx="20" ry="10"/>
<ellipse fill="#c1ddea" cx="400" cy="115" rx="10" ry="18"/>
<path fill="#fff" d="M0,420 C15,425 30,440 40,454 L0,454Z"/>
<path fill="url(#st)" d="M0,220 L140,220 L140,364 L0,364Z M92,100 L290,100 L290,240 L92,240Z M155,5 L290,5 L290,55 L155,55Z M125,63 L170,63 L170,91 L125,91Z M270,63 L300,63 L300,91 L270,91Z M280,230 L407,230 L407,417 L330,417 L300,390 L290,340 L280,300Z M200,440 L280,440 L280,454 L200,454Z"/>
<use href="#L2s"/>
<g font-size="20" fill="#808080" text-anchor="middle">
<text x="170" y="27" transform="rotate(65 170 20)">8.0</text>
<text x="149" y="109" transform="rotate(-25 149 102)">4.0</text>
<text x="205" y="134">2.0</text>
<text x="109" y="199" transform="rotate(-60 109 192)">1.0</text>
<text x="288" y="280" transform="rotate(72 288 273)">0.1</text>
</g>
</g>
<use href="#tk"/>
</g>

<!-- ============ ROW 3 ============ -->
<!-- R3C1 -->
<g transform="translate(127,1307)">
<g clip-path="url(#cp)">
<rect width="407" height="454" fill="#e6eef5"/>
<g fill="#f8e9e1">
<path d="M0,70 C20,75 40,85 60,95 C80,110 95,150 100,226 C80,230 40,220 0,226Z"/>
<path d="M100,3 L157,3 C160,30 158,60 150,76 C130,80 110,70 100,50Z"/>
<path d="M241,3 L354,3 C358,60 360,120 354,186 C330,180 300,150 280,120 C260,90 245,50 241,3Z"/>
<path d="M157,203 C175,200 205,205 230,210 C232,280 228,340 220,390 C200,392 180,380 170,350 C160,300 155,250 157,203Z"/>
<ellipse cx="55" cy="273" rx="11" ry="20"/>
</g>
<path fill="#c1ddea" d="M186,145 C195,128 212,130 226,140 C246,150 258,168 258,192 L252,196 C240,178 222,162 202,158 C192,156 184,152 186,145Z"/>
<ellipse fill="#c1ddea" cx="306" cy="300" rx="14" ry="20"/>
<path fill="#c1ddea" d="M0,313 C15,310 27,320 27,340 C25,355 15,362 5,360 L0,360Z"/>
<path fill="#fff" d="M0,410 C8,418 15,430 22,440 C30,448 40,452 49,454 L0,454Z"/>
<path fill="#fff" d="M262,454 C270,448 280,444 290,446 C300,450 305,452 310,454Z"/>
<use href="#L3m"/>
<g font-size="20" fill="#808080" text-anchor="middle">
<text x="250" y="9" transform="rotate(-35 250 2)">8.0</text>
<text x="380" y="126">4.0</text>
<text x="281" y="159" transform="rotate(40 281 152)">2.0</text>
<text x="92" y="202" transform="rotate(-55 92 195)">1.0</text>
<text x="331" y="343" transform="rotate(30 331 336)">0.1</text>
</g>
</g>
<use href="#tk"/>
</g>

<!-- R3C2 -->
<g transform="translate(573,1307)">
<g clip-path="url(#cp)">
<rect width="407" height="454" fill="#e6eef5"/>
<g fill="#f8e9e1">
<path d="M0,30 C30,30 60,60 80,100 C100,120 130,110 145,100 C150,150 150,250 148,300 C160,340 150,380 145,403 C110,410 80,400 60,380 C40,370 20,370 0,372Z"/>
<path d="M275,3 L407,3 L407,290 C380,292 350,270 330,230 C310,190 290,120 275,3Z"/>
<path d="M130,3 L200,3 C200,30 190,50 170,60 C150,50 135,30 130,3Z"/>
</g>
<path fill="#e6eef5" d="M0,280 C20,275 40,280 60,300 C60,320 40,330 0,330Z"/>
<path fill="#c1ddea" d="M128,200 C128,160 150,125 190,118 C230,115 265,140 275,180 C280,200 272,218 262,222 C240,200 220,196 200,196 C180,196 160,205 145,222 C135,218 128,210 128,200Z"/>
<path fill="#8ec0dc" d="M148,185 C150,155 170,135 200,133 C235,133 255,155 258,180 C258,192 250,195 240,193 C225,185 210,182 200,182 C180,182 162,188 150,192Z"/>
<path fill="#4a99c7" d="M184,170 C186,155 200,150 218,150 C240,152 252,165 252,178 C240,182 220,180 200,180 C190,180 184,176 184,170Z"/>
<ellipse fill="#2b6eb0" cx="215" cy="165" rx="18" ry="8"/>
<path fill="#c1ddea" d="M176,453 C176,420 180,395 188,383 C196,395 201,420 201,453Z"/>
<path fill="#c1ddea" d="M337,454 C345,445 370,438 395,436 L407,436 L407,454Z"/>
<ellipse fill="#c1ddea" cx="12" cy="243" rx="12" ry="13"/>
<path fill="url(#st)" d="M190,136 L232,136 L232,173 L190,173Z"/>
<path fill="#fff" d="M0,410 C8,418 15,430 22,440 C30,448 40,452 49,454 L0,454Z"/>
<path fill="#fff" d="M262,454 C270,448 280,444 290,446 C300,450 305,452 310,454Z"/>
<use href="#L3m"/>
<g font-size="20" fill="#808080" text-anchor="middle">
<text x="250" y="9" transform="rotate(-35 250 2)">8.0</text>
<text x="380" y="126">4.0</text>
<text x="281" y="159" transform="rotate(40 281 152)">2.0</text>
<text x="92" y="202" transform="rotate(-55 92 195)">1.0</text>
<text x="331" y="343" transform="rotate(30 331 336)">0.1</text>
</g>
</g>
<use href="#tk"/>
</g>

<!-- R3C3 -->
<g transform="translate(1019,1307)">
<g clip-path="url(#cp)">
<rect width="407" height="454" fill="#e6eef5"/>
<g fill="#f8e9e1">
<path d="M0,40 C30,45 60,60 90,70 C120,75 140,90 149,120 C150,180 145,240 140,283 C100,285 60,280 0,275Z"/>
<path d="M171,3 L262,3 C262,40 255,80 240,93 C210,95 185,85 175,60Z"/>
<path d="M307,3 L407,3 L407,200 C380,205 350,190 330,150 C315,110 305,60 307,3Z"/>
<path d="M115,283 C130,280 160,280 177,290 C178,330 175,370 170,403 C150,405 125,400 118,380Z"/>
<ellipse cx="38" cy="335" rx="12" ry="20"/>
</g>
<path fill="#c1ddea" d="M170,182 C175,165 200,160 222,168 L240,158 C270,156 292,175 302,200 C315,230 325,268 331,300 L313,303 C300,280 292,245 282,222 C268,207 245,197 222,192 C200,190 180,192 170,182Z"/>
<ellipse fill="#c1ddea" cx="392" cy="312" rx="20" ry="14"/>
<path fill="#fff" d="M0,410 C8,418 15,430 22,440 C30,448 40,452 49,454 L0,454Z"/>
<path fill="#fff" d="M262,454 C270,448 280,444 290,446 C300,450 305,452 310,454Z"/>
<use href="#L3s"/>
<g font-size="20" fill="#808080" text-anchor="middle">
<text x="287" y="101">4.0</text>
<text x="124" y="158" transform="rotate(-50 124 151)">2.0</text>
<text x="90" y="211" transform="rotate(-55 90 204)">1.0</text>
<text x="290" y="257" transform="rotate(80 290 250)">0.1</text>
</g>
</g>
<use href="#tk"/>
</g>

<!-- R3C4 -->
<g transform="translate(1465,1307)">
<g clip-path="url(#cp)">
<rect width="407" height="454" fill="#e6eef5"/>
<g fill="#f8e9e1">
<path d="M0,46 C40,50 80,60 110,80 C135,95 145,130 145,200 C145,260 140,310 135,340 C90,345 40,340 0,342Z"/>
<path d="M230,3 L407,3 L407,160 C370,170 320,150 290,120 C260,90 240,50 230,3Z"/>
<path d="M252,316 C270,312 300,315 314,330 C312,360 300,385 285,386 C265,384 254,360 252,316Z"/>
<path d="M60,340 C80,345 95,370 85,395 C70,390 60,370 60,340Z"/>
</g>
<path fill="#facbb3" d="M0,180 C12,180 22,195 24,215 C22,235 12,246 3,246 L0,246Z"/>
<ellipse fill="#facbb3" cx="100" cy="258" rx="23" ry="14"/>
<path fill="#c1ddea" d="M139,185 C140,150 165,135 200,133 C245,132 285,150 300,190 C330,205 375,215 407,215 L407,268 C375,268 345,262 320,258 C310,245 300,230 285,222 C265,210 235,200 205,200 C185,200 175,210 170,240 C165,258 158,260 153,250 C145,235 139,210 139,185Z"/>
<path fill="#8ec0dc" d="M151,190 C152,162 172,146 205,146 C245,146 290,160 303,190 C305,210 300,222 290,223 C270,210 240,200 205,200 C180,200 165,205 158,210 C152,205 151,198 151,190Z"/>
<path fill="#4a99c7" d="M157,180 C160,166 180,162 205,162 C240,163 270,170 280,182 C278,193 265,196 240,196 L175,196 C163,195 157,190 157,180Z"/>
<ellipse fill="#2b6eb0" cx="205" cy="174" rx="22" ry="6"/>
<path fill="#c1ddea" d="M186,454 L190,420 L196,454Z"/>
<path fill="url(#st)" d="M167,150 L230,150 L230,185 L167,185Z"/>
<path fill="#fff" d="M0,410 C8,418 15,430 22,440 C30,448 40,452 49,454 L0,454Z"/>
<path fill="#fff" d="M262,454 C270,448 280,444 290,446 C300,450 305,452 310,454Z"/>
<use href="#L3s"/>
<g font-size="20" fill="#808080" text-anchor="middle">
<text x="287" y="101">4.0</text>
<text x="124" y="158" transform="rotate(-50 124 151)">2.0</text>
<text x="90" y="211" transform="rotate(-55 90 204)">1.0</text>
<text x="290" y="257" transform="rotate(80 290 250)">0.1</text>
</g>
</g>
<use href="#tk"/>
</g>

<!-- Y tick labels -->
<g font-size="26" text-anchor="end">
<text x="111" y="161.5">30</text><text x="111" y="237.2">25</text><text x="111" y="312.8">20</text><text x="111" y="388.5">15</text><text x="111" y="464.2">10</text><text x="111" y="539.8">5</text><text x="111" y="615.5">0</text>
<text x="111" y="739">30</text><text x="111" y="814.7">25</text><text x="111" y="890.3">20</text><text x="111" y="966">15</text><text x="111" y="1041.7">10</text><text x="111" y="1117.3">5</text><text x="111" y="1193">0</text>
<text x="111" y="1316.5">30</text><text x="111" y="1392.2">25</text><text x="111" y="1467.8">20</text><text x="111" y="1543.5">15</text><text x="111" y="1619.2">10</text><text x="111" y="1694.8">5</text><text x="111" y="1770.5">0</text>
</g>
<!-- X tick labels -->
<g font-size="26" text-anchor="middle">
<text x="217.4" y="1798">−50</text><text x="330.5" y="1798">0</text><text x="443.5" y="1798">50</text>
<text x="663.4" y="1798">−50</text><text x="776.5" y="1798">0</text><text x="889.5" y="1798">50</text>
<text x="1109.4" y="1798">−50</text><text x="1222.5" y="1798">0</text><text x="1335.5" y="1798">50</text>
<text x="1555.4" y="1798">−50</text><text x="1668.5" y="1798">0</text><text x="1781.5" y="1798">50</text>
</g>

<text x="943" y="1873" font-size="34" text-anchor="middle">Latitude (°)</text>
<text x="47" y="945" font-size="34" text-anchor="middle" transform="rotate(-90 47 945)">Geopotential Height (km)</text>

<!-- Colorbar -->
<g>
<polygon points="504.7,1938 461,1966.5 504.7,1995" fill="#67001f"/>
<polygon points="1380.5,1938 1425,1966.5 1380.5,1995" fill="#053061"/>
<rect x="504.7" y="1938" width="73.5" height="57" fill="#870a25"/>
<rect x="577.7" y="1938" width="73.5" height="57" fill="#b82832"/>
<rect x="650.7" y="1938" width="73.5" height="57" fill="#d86752"/>
<rect x="723.6" y="1938" width="73.5" height="57" fill="#f1a07e"/>
<rect x="796.6" y="1938" width="73.5" height="57" fill="#facbb3"/>
<rect x="869.6" y="1938" width="73.5" height="57" fill="#f8e9e1"/>
<rect x="942.6" y="1938" width="73.5" height="57" fill="#e6eef5"/>
<rect x="1015.6" y="1938" width="73.5" height="57" fill="#c1ddea"/>
<rect x="1088.6" y="1938" width="73.5" height="57" fill="#8ec0dc"/>
<rect x="1161.5" y="1938" width="73.5" height="57" fill="#4a99c7"/>
<rect x="1234.5" y="1938" width="73.5" height="57" fill="#2b6eb0"/>
<rect x="1307.5" y="1938" width="73" height="57" fill="#134b84"/>
<polygon points="504.7,1938 1380.5,1938 1425,1966.5 1380.5,1995 504.7,1995 461,1966.5" fill="none" stroke="#111" stroke-width="1.6"/>
<line x1="504.7" x2="1380.5" y1="1938" y2="1938" stroke="#333" stroke-width="2.5"/>
<g stroke="#222" stroke-width="1.4">
<line x1="504.7" x2="504.7" y1="1995" y2="2001"/><line x1="650.7" x2="650.7" y1="1995" y2="2001"/><line x1="796.6" x2="796.6" y1="1995" y2="2001"/><line x1="942.6" x2="942.6" y1="1995" y2="2001"/><line x1="1088.6" x2="1088.6" y1="1995" y2="2001"/><line x1="1234.5" x2="1234.5" y1="1995" y2="2001"/><line x1="1380.5" x2="1380.5" y1="1995" y2="2001"/>
</g>
<g font-size="24" text-anchor="middle">
<text x="504.7" y="2028">−30</text><text x="650.7" y="2028">−20</text><text x="796.6" y="2028">−10</text><text x="942.6" y="2028">0</text><text x="1088.6" y="2028">10</text><text x="1234.5" y="2028">20</text><text x="1380.5" y="2028">30</text>
</g>
<text x="943" y="2063" font-size="28" text-anchor="middle">Δ O3 (%)</text>
</g>
</svg>
</body></html>
